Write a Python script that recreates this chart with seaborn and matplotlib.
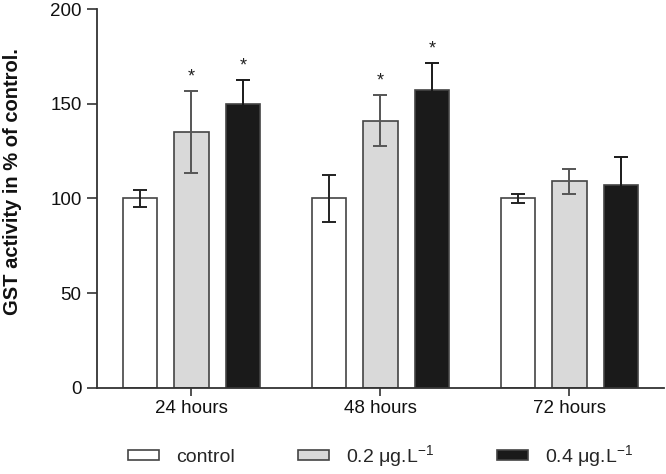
import pandas as pd
import matplotlib.pyplot as plt
import seaborn as sns

# values
times = ['24 hours', '48 hours', '72 hours']
groups = ['control', '0.2 μg.L$^{-1}$', '0.4 μg.L$^{-1}$']
control = [100, 100, 100]
low_dose = [135, 141, 109]
high_dose = [150, 157, 107]
control_err = [4.6, 12.5, 2.4]
low_err = [21.5, 13.5, 6.6]
high_err = [12.5, 14.3, 15]
signif_low = [True, True, False]
signif_high = [True, True, False]

data = pd.DataFrame({
    'time': times * 3,
    'group': [groups[0]] * 3 + [groups[1]] * 3 + [groups[2]] * 3,
    'value': control + low_dose + high_dose,
    'err': control_err + low_err + high_err,
    'sig': [False] * 3 + signif_low + signif_high,
})

sns.set_style("ticks")
plt.rcParams['font.family'] = ['Liberation Sans', 'DejaVu Sans']
plt.rcParams['mathtext.fontset'] = 'custom'
plt.rcParams['mathtext.rm'] = 'Liberation Sans'
plt.rcParams['mathtext.it'] = 'Liberation Sans:italic'

fig = plt.figure(figsize=(6.66, 4.74), dpi=100)
ax = fig.add_axes([0.1456, 0.182, 0.8514, 0.799])

fills = ['white', '#d9d9d9', '#1a1a1a']
err_colors = ['#222222', '#555555', '#1a1a1a']
palette = dict(zip(groups, fills))
sns.barplot(data=data, x='time', y='value', hue='group', hue_order=groups,
            palette=palette, errorbar=None, width=0.82, gap=0.33,
            edgecolor='#444444', linewidth=1.2, saturation=1, ax=ax)

# error bars and asterisks at the bar centres seaborn laid out
bars = [p for p in ax.patches if p.get_height() > 0][:9]
for i, (bar, (_, row)) in enumerate(zip(bars, data.iterrows())):
    xc = bar.get_x() + bar.get_width() / 2
    ax.errorbar(xc, row['value'], yerr=row['err'], color=err_colors[i // 3],
                elinewidth=1.4, capsize=4.8, capthick=1.4, zorder=3)
    if row['sig']:
        ax.text(xc, row['value'] + row['err'] + 3, '*', ha='center',
                va='bottom', fontsize=13, color='#222222')

ax.set_ylim(0, 200)
ax.set_xlim(-0.5, 2.5)
ax.set_yticks([0, 50, 100, 150, 200])
ax.set_xlabel('')
ax.set_ylabel('GST activity in % of control.', fontsize=14.5,
              fontweight='bold', color='#111111')
ax.yaxis.set_label_coords(-0.133, 0.544)
ax.tick_params(axis='y', length=7.5, width=1.2, color='#333333',
               labelsize=13.5, labelcolor='#111111')
ax.tick_params(axis='x', length=5.5, width=1.2, color='#333333',
               labelsize=13.5, labelcolor='#111111')
for side in ['left', 'bottom']:
    ax.spines[side].set_color('#333333')
    ax.spines[side].set_linewidth(1.3)
sns.despine(ax=ax)

ax.legend(loc='center', bbox_to_anchor=(0.5, -0.18), ncol=3, frameon=False,
          fontsize=14, handlelength=1.6, handleheight=0.45,
          columnspacing=3.25, handletextpad=0.88)

fig.savefig('out.png', dpi=100)
